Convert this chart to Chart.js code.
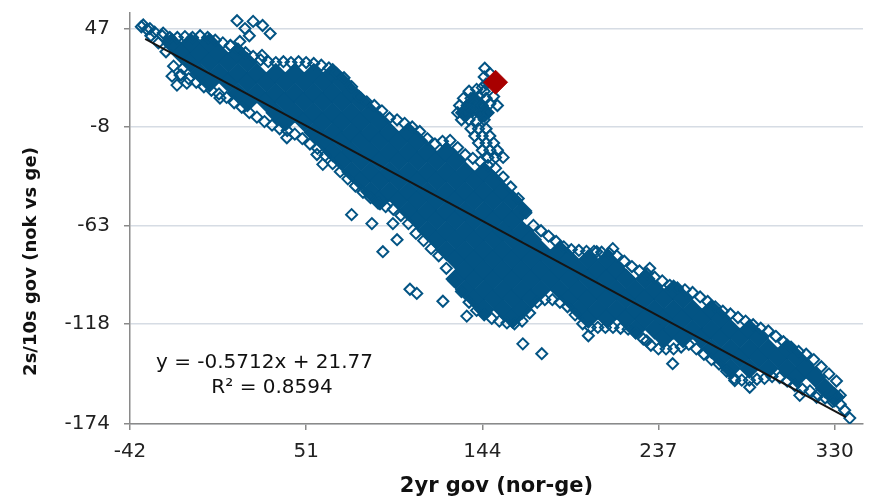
<!DOCTYPE html>
<html>
<head>
<meta charset="utf-8">
<script src="https://cdn.jsdelivr.net/npm/chart.js@4.4.1/dist/chart.umd.min.js"></script>
<style>
  html, body { margin: 0; padding: 0; background: #fff; }
</style>
</head>
<body>
<canvas id="chart" width="877" height="499"></canvas>
<script>
// Ticks
const xTicks = [-42, 51, 144, 237, 330];
const yTicks = [-174, -118, -63, -8, 47];

// Regression (from the chart label)
const slope = -0.5712;
const intercept = 21.77;
const trendRange = [-34, 336];
const eqLines = [
  { text: "y = -0.5712x + 21.77", x: 29, y: -140 },
  { text: "R\u00b2 = 0.8594", x: 33, y: -154 },
];

// Latest observation (red)
const latest = [[151, 17]];

// Dense middle of the cloud, read column by column: [x, [y...]]
const coreCols = [
  [-20, [39]], [-15, [33]], [-10, [39, 28]], [-5, [33, 22]],
  [0, [39, 28, 17]], [5, [33, 22]], [10, [28, 17]], [15, [33, 22, 11]],
  [20, [28, 17, 6]], [25, [22, 11]], [30, [17, 6]], [35, [22, 11, 0]],
  [40, [17, 6, -5]], [45, [22, 11, 0]], [50, [17, 6, -5]], [55, [22, 11, 0, -11]],
  [60, [17, 6, -5, -16]], [65, [22, 11, 0, -11, -22]], [70, [17, 6, -5, -16, -27]],
  [75, [11, 0, -11, -22, -33]], [80, [6, -5, -16, -27, -38]], [85, [0, -11, -22, -33, -44]],
  [90, [-5, -16, -27, -38, -49]], [95, [-11, -22, -33, -44]], [100, [-16, -27, -38, -49]],
  [105, [-11, -22, -33, -44, -55]], [110, [-16, -27, -38, -49, -60]],
  [115, [-22, -33, -44, -55, -66]], [120, [-27, -38, -49, -60, -71]],
  [125, [-22, -33, -44, -55, -66, -77]], [130, [-27, -38, -49, -60, -71, -82, -93]],
  [135, [0, -33, -44, -55, -66, -77, -88, -99]], [140, [6, -38, -49, -60, -71, -82, -93, -104]],
  [145, [0, -33, -44, -55, -66, -77, -88, -99, -110]], [150, [-38, -49, -60, -71, -82, -93, -104]],
  [155, [-44, -55, -66, -77, -88, -99, -110]], [160, [-49, -60, -71, -82, -93, -104, -115]],
  [165, [-55, -66, -77, -88, -99, -110]], [170, [-71, -82, -93, -104]],
  [175, [-77, -88, -99]], [180, [-82, -93]], [185, [-77, -88, -99]],
  [190, [-82, -93, -104]], [195, [-88, -99, -110]], [200, [-82, -93, -104, -115]],
  [205, [-88, -99, -110]], [210, [-82, -93, -104, -115]], [215, [-88, -99, -110]],
  [220, [-93, -104, -115]], [225, [-99, -110, -121]], [230, [-93, -104, -115]],
  [235, [-99, -110, -121]], [240, [-104, -115, -126]], [245, [-99, -110, -121]],
  [250, [-104, -115, -126]], [255, [-110, -121]], [260, [-115, -126]],
  [265, [-110, -121, -132]], [270, [-115, -126, -137]], [275, [-121, -132, -143]],
  [280, [-126, -137]], [285, [-121, -132, -143]], [290, [-126, -137]],
  [295, [-132, -143]], [300, [-137]], [305, [-132, -143]], [310, [-137, -148]],
  [315, [-143]], [320, [-148]], [325, [-154]], [330, [-159]],
];

// Upper rim of the cloud
const edgeTop = [
  [-36, 48], [-33, 46.5], [-29, 45], [-25, 43], [-21, 42], [-17, 42], [-13, 42.5], [-9, 42],
  [-5, 43], [-1, 42], [3, 40.5], [7, 39], [11, 37.5], [15, 35.5], [19, 33.5], [23, 31.5],
  [27, 29.5], [31, 28.5], [35, 28], [39, 28.5], [43, 28], [47, 28.5], [51, 28], [55, 27.5],
  [59, 26.5], [63, 25], [67, 22], [71, 19.5], [75, 14.5], [79, 9], [83, 6], [87, 4],
  [91, 1], [95, -3], [99, -4], [103, -6], [107, -8], [111, -10.5], [115, -14.5], [119, -17.5],
  [123, -16], [127, -15.5], [131, -19.5], [135, -23.5], [139, -25.5], [143, -27.5], [147, -29.5],
  [151, -31], [155, -36], [159, -41.5], [163, -48], [167, -56], [171, -63], [175, -66],
  [179, -69], [183, -72], [187, -75], [191, -76.5], [195, -77], [199, -77.5], [203, -77.5],
  [207, -78], [211, -78.5], [215, -80], [219, -83], [223, -86], [227, -88.5], [231, -90],
  [235, -92], [239, -94], [243, -96.5], [247, -98], [251, -99], [255, -100.5], [259, -103],
  [263, -105.5], [267, -108.5], [271, -111], [275, -112.5], [279, -114.5], [283, -116.5],
  [287, -118.5], [291, -120.5], [295, -122], [299, -125], [303, -128], [307, -131],
  [311, -133.5], [315, -135], [319, -138], [323, -142], [327, -146], [331, -150], [333, -158],
];

// Lower rim of the cloud
const edgeBottom = [
  [-31, 43], [-27, 39], [-23, 34], [-19, 26], [-15, 21], [-11, 19], [-7, 17], [-3, 14.5],
  [1, 12.5], [5, 10.5], [9, 8.5], [13, 5.5], [17, 3], [21, 0], [25, -2.5], [29, -5],
  [33, -7], [37, -9], [41, -10], [45, -12], [49, -14.5], [53, -17.5], [57, -20], [61, -24],
  [65, -28.5], [69, -33], [73, -37], [77, -41], [81, -44.5], [85, -47.5], [89, -50.5],
  [93, -52.5], [97, -54], [101, -57.5], [105, -62], [109, -67.5], [113, -71.5], [117, -76],
  [121, -80], [125, -87], [129, -94], [133, -100], [137, -106], [141, -110.5], [145, -113],
  [149, -115], [153, -116.5], [157, -117.5], [161, -118], [165, -116.5], [169, -112],
  [173, -106], [177, -104.5], [181, -104.5], [185, -106], [189, -108.5], [193, -113],
  [197, -118], [201, -120], [205, -120], [209, -120], [213, -120], [217, -120.5], [221, -121],
  [225, -123], [229, -126.5], [233, -130], [237, -132], [241, -132], [245, -132], [249, -131],
  [253, -129.5], [257, -132], [261, -135], [265, -138], [269, -140.5], [273, -144.5],
  [277, -148.5], [281, -149.5], [285, -149.5], [289, -149], [293, -148.5], [297, -147.5],
  [301, -148], [305, -150], [309, -152.5], [313, -154.5], [317, -155.5], [321, -157.5],
  [325, -159.5], [329, -161.5], [333, -163],
];

// Stray points off the main band
const strays = [
  [-35, 49], [-31.5, 47], [-24.5, 44.5],
  [14.5, 51.4], [23, 51], [28, 48.7], [32, 44.2], [16, 39.8], [27.7, 32], [11, 37.6], [21, 43], [18.7, 47],
  [-15.6, 21], [-17.2, 15.4], [-12, 16.5], [-19.8, 20.4], [-14, 24.8], [5.5, 8.2],
  [40.8, -14], [56.7, -23.4], [59.8, -28.9],
  [75, -57], [85.7, -62], [96.8, -62], [91.5, -77.7], [99, -71], [105.8, -98.7], [109.4, -101],
  [123.2, -105.4], [135.8, -113.7], [165.4, -129.2], [175.4, -134.7],
  [200, -124.7], [230.8, -127.5], [244.5, -140.3], [277.3, -149.7], [285.2, -153.5],
  [311.6, -158], [320.5, -159.1], [204.4, -77.7], [212.9, -76], [232.4, -87],
  [335.3, -166.3], [338, -170.7],
];

// Recent run up towards the latest point
const spike = [
  [145.3, 24.8], [148, 22], [145, 20], [146, 16], [144, 14],
  [137, 12], [141, 13], [145, 12],
  [134, 8], [138, 8], [142, 9], [146, 8], [150, 9],
  [132, 4], [136, 4], [140, 5], [144, 4], [148, 5], [152, 4],
  [131, 0], [135, 0], [139, 1], [143, -1], [147, 0],
  [133, -4], [137, -4], [141, -5], [145, -4],
  [138, -9], [142, -9], [146, -9], [140, -13], [144, -13], [148, -13],
  [142, -17], [146, -17], [150, -17], [144, -21], [148, -21], [152, -21],
  [147, -25], [151, -25], [155, -25],
];

const yTitle = "2s/10s gov (nok vs ge)";
const xTitle = "2yr gov (nor-ge)";

const BLUE = "#035484";
const RED = "#a80000";
const AXIS = "#8a8a8a";
const FONT = '"DejaVu Sans", Verdana, sans-serif';

const toPts = (arr) => arr.map(([x, y]) => ({ x, y }));
const corePts = [];
coreCols.forEach(([x, ys]) => ys.forEach((y) => corePts.push({ x, y })));
const rimPts = toPts([...edgeTop, ...edgeBottom, ...strays, ...spike]);
const trendPts = trendRange.map((x) => ({ x, y: slope * x + intercept }));

// Equation label and y title drawn on the canvas
const labelsPlugin = {
  id: "labels",
  afterDraw(chart) {
    const { ctx, chartArea, scales } = chart;
    ctx.save();
    ctx.fillStyle = "#111";
    ctx.textAlign = "center";
    ctx.textBaseline = "middle";
    ctx.font = "20px " + FONT;
    eqLines.forEach((l) => {
      ctx.fillText(l.text, scales.x.getPixelForValue(l.x), scales.y.getPixelForValue(l.y));
    });
    ctx.translate(31, (chartArea.top + chartArea.bottom) / 2 + 43);
    ctx.rotate(-Math.PI / 2);
    ctx.font = "bold 18px " + FONT;
    ctx.fillText(yTitle, 0, 0);
    ctx.restore();
  },
};

const ctx = document.getElementById("chart").getContext("2d");
const chart = new Chart(ctx, {
  type: "scatter",
  data: {
    datasets: [
      {
        data: toPts(latest),
        pointStyle: "rectRot",
        pointRadius: 12,
        pointBackgroundColor: RED,
        pointBorderColor: RED,
        pointBorderWidth: 1,
        order: 0,
      },
      {
        data: trendPts,
        showLine: true,
        borderColor: "#151515",
        borderWidth: 2,
        pointRadius: 0,
        order: 1,
      },
      {
        data: rimPts,
        pointStyle: "rectRot",
        pointRadius: 5.5,
        pointBorderWidth: 2,
        pointBorderColor: BLUE,
        pointBackgroundColor: "rgba(255,255,255,0)",
        order: 2,
      },
      {
        data: corePts,
        pointStyle: "rectRot",
        pointRadius: 10.5,
        pointBorderWidth: 0,
        pointBackgroundColor: BLUE,
        pointBorderColor: BLUE,
        order: 3,
      },
    ],
  },
  options: {
    responsive: false,
    animation: false,
    events: [],
    layout: { padding: { top: 9, right: 14, bottom: 0, left: 0 } },
    plugins: { legend: { display: false }, tooltip: { enabled: false } },
    scales: {
      x: {
        type: "linear",
        min: -42,
        max: 345,
        afterBuildTicks: (s) => { s.ticks = xTicks.map((v) => ({ value: v })); },
        afterFit: (s) => { s.height = 75; s.paddingLeft = 0; s.paddingRight = 0; },
        ticks: { font: { family: FONT, size: 20 }, color: "#222", padding: 10, callback: (v) => String(v) },
        grid: { drawOnChartArea: false, tickLength: 6, tickColor: AXIS, lineWidth: 1.5 },
        border: { color: AXIS, width: 1.5 },
        title: { display: true, text: xTitle, color: "#111", font: { family: FONT, size: 21, weight: "bold" }, padding: { top: 0, bottom: 0 } },
      },
      y: {
        type: "linear",
        min: -174,
        max: 55.7,
        afterBuildTicks: (s) => { s.ticks = yTicks.map((v) => ({ value: v })); },
        afterFit: (s) => { s.width = 130; s.paddingTop = 0; s.paddingBottom = 0; },
        ticks: { font: { family: FONT, size: 20 }, color: "#222", padding: 14, callback: (v) => String(v) },
        grid: { color: "#d6dce4", lineWidth: 1.5, tickLength: 6, tickColor: AXIS },
        border: { color: AXIS, width: 1.5 },
      },
    },
  },
  plugins: [labelsPlugin],
});
</script>
</body>
</html>
